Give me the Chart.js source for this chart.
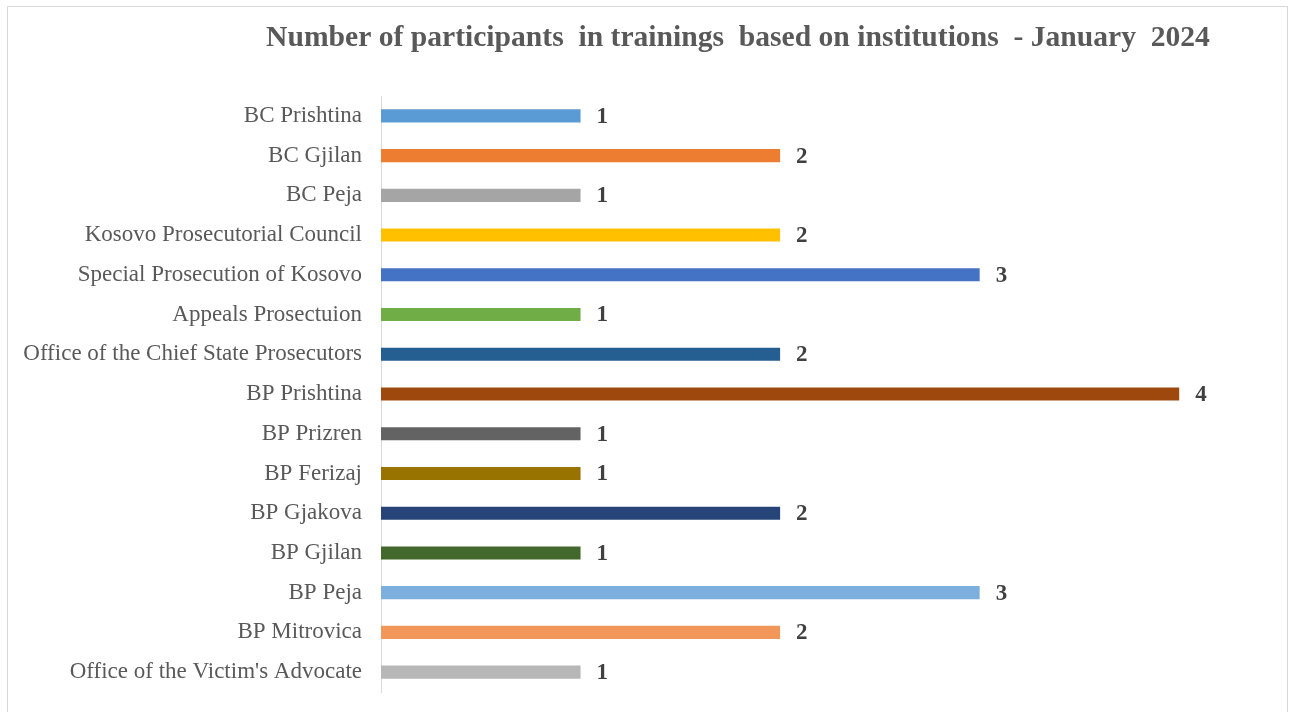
<!DOCTYPE html>
<html>
<head>
<meta charset="utf-8">
<script src="https://cdn.jsdelivr.net/npm/chart.js@4"></script>
<style>
  html, body { margin: 0; padding: 0; background: #fff; overflow: hidden; }
  #wrap { position: relative; width: 1294px; height: 712px; }
  #frame { position: absolute; left: 7px; top: 6px; width: 1281px; height: 706px; border: 1px solid #d9d9d9; border-bottom: none; box-sizing: border-box; }
  canvas { position: absolute; left: 0; top: 0; }
</style>
</head>
<body>
<div id="wrap">
  <div id="frame"></div>
  <canvas id="chart" width="1294" height="712"></canvas>
</div>
<script>
// ── Data ────────────────────────────────────────────────────────────────
const institutions = [
    'BC Prishtina', 'BC Gjilan', 'BC Peja', 'Kosovo Prosecutorial Council',
    'Special Prosecution of Kosovo', 'Appeals Prosectuion',
    'Office of the Chief State Prosecutors', 'BP Prishtina', 'BP Prizren',
    'BP Ferizaj', 'BP Gjakova', 'BP Gjilan', 'BP Peja', 'BP Mitrovica',
    "Office of the Victim's Advocate"
];
const participants = [1, 2, 1, 2, 3, 1, 2, 4, 1, 1, 2, 1, 3, 2, 1];
const barColors = [
    '#5B9BD5', '#ED7D31', '#A5A5A5', '#FFC000', '#4472C4', '#70AD47', '#255E91',
    '#9E480E', '#636363', '#997300', '#264478', '#43682B', '#7CAFDD', '#F1975A', '#B7B7B7'
];
const chartTitle = 'Number of participants  in trainings  based on institutions  - January  2024';

const SERIF = '"Liberation Serif", "Times New Roman", serif';

// ── Plugins ─────────────────────────────────────────────────────────────
const titlePlugin = {
    id: 'topTitle',
    afterDraw(chart) {
        const ctx = chart.ctx;
        ctx.save();
        ctx.font = 'bold 29.6px ' + SERIF;
        ctx.fillStyle = '#595959';
        ctx.textAlign = 'center';
        ctx.textBaseline = 'middle';
        ctx.fillText(chartTitle, 738, 38);
        ctx.restore();
    }
};

const valueLabels = {
    id: 'valueLabels',
    afterDatasetsDraw(chart) {
        const ctx = chart.ctx;
        const meta = chart.getDatasetMeta(0);
        ctx.save();
        ctx.font = 'bold 23px ' + SERIF;
        ctx.fillStyle = '#404040';
        ctx.textAlign = 'left';
        ctx.textBaseline = 'middle';
        meta.data.forEach((bar, i) => {
            ctx.fillText(String(participants[i]), bar.x + 16, bar.y + 1);
        });
        ctx.restore();
    }
};

// ── Chart ───────────────────────────────────────────────────────────────
new Chart(document.getElementById('chart'), {
    type: 'bar',
    data: {
        labels: institutions,
        datasets: [{
            data: participants,
            backgroundColor: barColors,
            borderWidth: 0,
            barPercentage: 0.33,
            categoryPercentage: 1
        }]
    },
    options: {
        indexAxis: 'y',
        responsive: false,
        animation: false,
        layout: { padding: { left: 0, right: 15, top: 96, bottom: 20 } },
        plugins: {
            legend: { display: false },
            tooltip: { enabled: false }
        },
        scales: {
            x: {
                display: false,
                min: 0,
                max: 4.5
            },
            y: {
                afterFit: s => {
                    s.width = 381;
                    s.paddingTop = 0;
                    s.paddingBottom = 0;
                },
                grid: { display: false, drawTicks: false },
                border: { display: true, color: '#d9d9d9', width: 1 },
                ticks: {
                    padding: 19,
                    color: '#595959',
                    font: { family: SERIF, size: 23 }
                }
            }
        }
    },
    plugins: [titlePlugin, valueLabels]
});
</script>
</body>
</html>
